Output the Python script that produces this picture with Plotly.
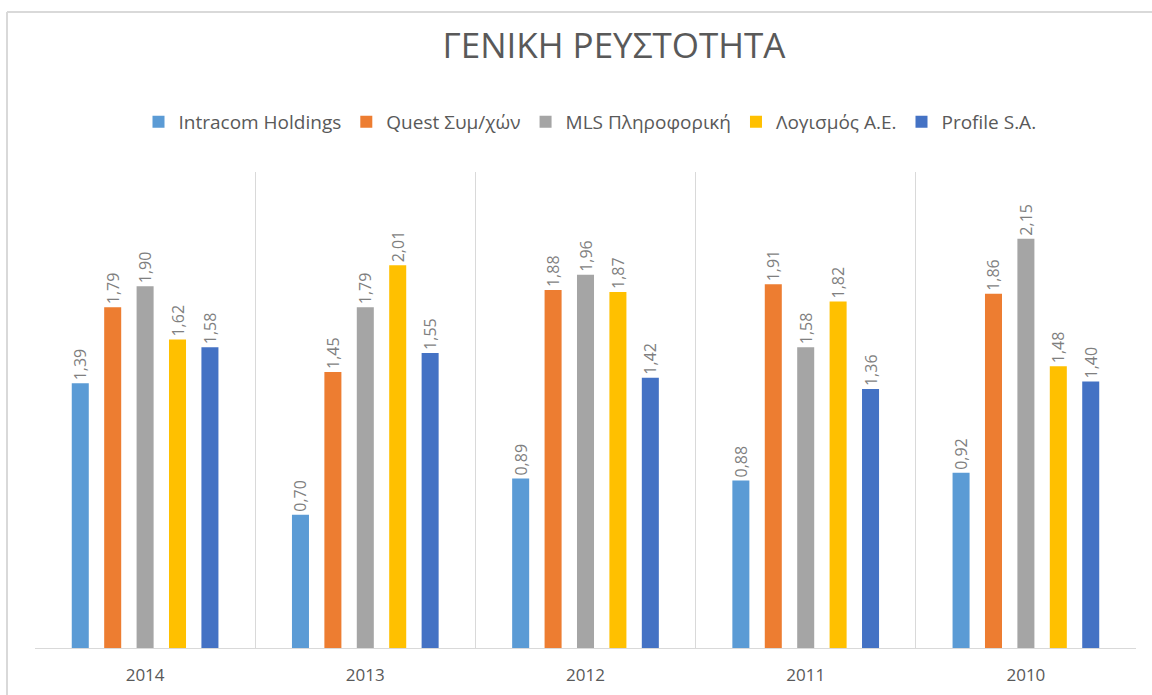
import plotly.graph_objects as go

years = ["2014", "2013", "2012", "2011", "2010"]
series_names = ["Intracom Holdings", "Quest Συμ/χών", "MLS Πληροφορική", "Λογισμός Α.Ε.", "Profile S.A."]
intracom = [1.39, 0.70, 0.89, 0.88, 0.92]
quest = [1.79, 1.45, 1.88, 1.91, 1.86]
mls = [1.90, 1.79, 1.96, 1.58, 2.15]
logismos = [1.62, 2.01, 1.87, 1.82, 1.48]
profile = [1.58, 1.55, 1.42, 1.36, 1.40]
colors = ["#5B9BD5", "#ED7D31", "#A5A5A5", "#FFC000", "#4472C4"]

W, H = 1152, 695
ml, mr, mt, mb = 35, 16, 172, 47
FONT = "Open Sans, sans-serif"

fig = go.Figure()
for name, vals, col in zip(series_names, [intracom, quest, mls, logismos, profile], colors):
    fig.add_trace(go.Bar(
        x=years, y=vals, name=name, marker_color=col, marker_line_width=0,
        texttemplate="%{y:.2f}\u00a0\u00a0", textposition="outside", textangle=-90,
        textfont=dict(family=FONT, size=16, color="#7F7F7F"),
        constraintext="none", cliponaxis=False,
    ))

pw = W - ml - mr
ph = H - mt - mb
def px_x(x):
    return (x - ml) / pw
def px_y(y):
    return (H - mb - y) / ph

fig.update_layout(
    width=W, height=H,
    margin=dict(l=ml, r=mr, t=mt, b=mb, autoexpand=False),
    paper_bgcolor="white", plot_bgcolor="white",
    separators=",.",
    barmode="group", bargap=0.264, bargroupgap=0.475,
    title=dict(text="ΓΕΝΙΚΗ ΡΕΥΣΤΟΤΗΤΑ", x=614 / W, xanchor="center", y=1 - 46 / H, yanchor="middle",
               font=dict(family=FONT, size=35, color="#595959")),
    legend=dict(orientation="h", x=px_x(590), xanchor="center",
                y=px_y(122), yanchor="middle",
                font=dict(family=FONT, size=19, color="#595959"),
                itemwidth=30, traceorder="normal"),
    xaxis=dict(type="category", tickson="boundaries", showgrid=True, gridcolor="#D9D9D9", gridwidth=1,
               showline=True, linecolor="#D9D9D9", linewidth=1, ticks="", ticklabelstandoff=12,
               automargin=False,
               tickfont=dict(family=FONT, size=17, color="#595959")),
    yaxis=dict(range=[0, 2.5], showgrid=False, showticklabels=False, zeroline=False, showline=False,
               automargin=False),
    shapes=[
        dict(type="line", xref="paper", yref="paper", x0=px_x(7), x1=px_x(W + 5), y0=px_y(12), y1=px_y(12),
             line=dict(color="#D9D9D9", width=2)),
        dict(type="line", xref="paper", yref="paper", x0=px_x(7), x1=px_x(7), y0=px_y(12), y1=px_y(H + 5),
             line=dict(color="#D9D9D9", width=2)),
    ],
)

fig.write_html("out.html", config={"displayModeBar": False},
               post_script="document.body.style.margin='0';")
